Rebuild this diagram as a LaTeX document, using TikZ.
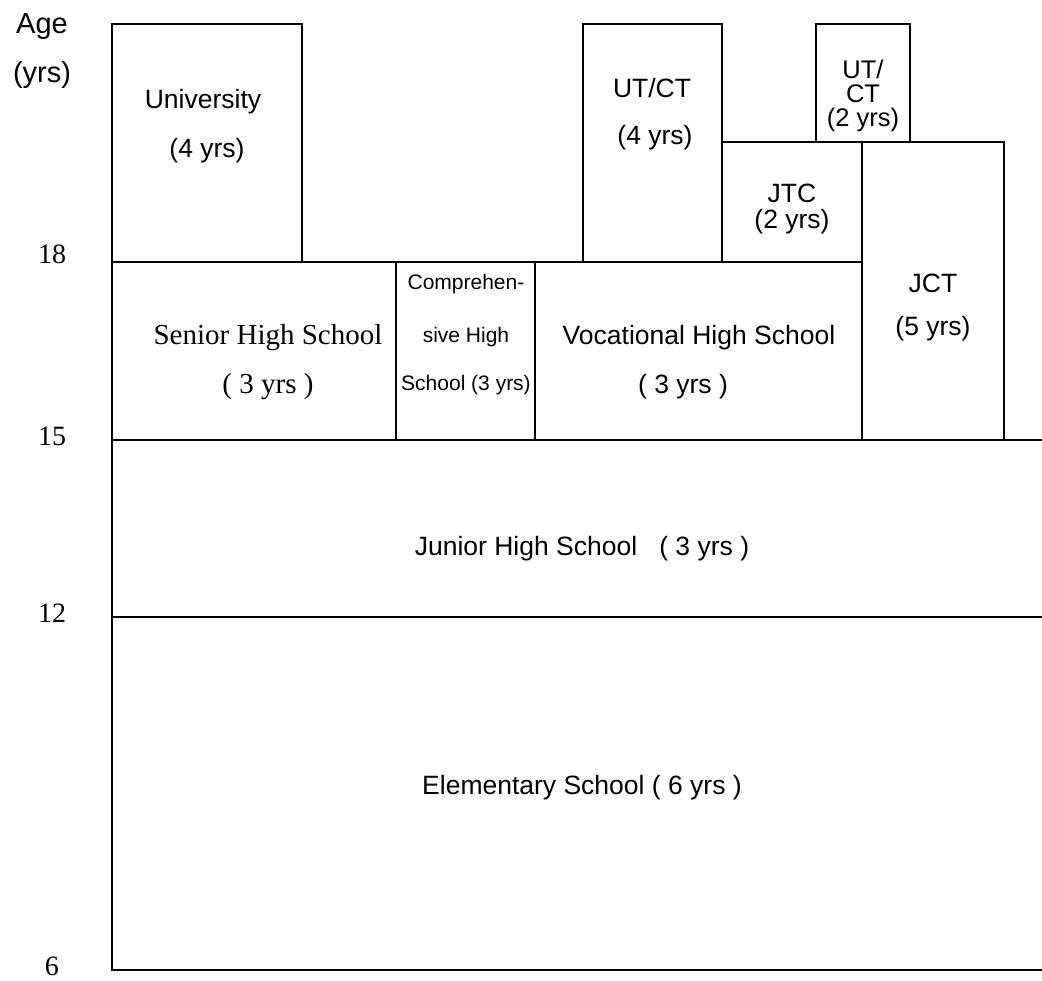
\documentclass[tikz,border=0pt]{standalone}
\usepackage{fontspec}
\setmainfont{Liberation Serif}
\newfontfamily\arialf{Liberation Sans}
\begin{document}
\begin{tikzpicture}[x=1pt,y=-1pt,
  ln/.style={line width=1.7pt,line cap=rect},
  lab/.style={font=\arialf\fontsize{26.5}{30}\selectfont,inner sep=0pt,anchor=center},
  alab/.style={font=\arialf\fontsize{29}{32}\selectfont,inner sep=0pt,anchor=center},
  slab/.style={font=\arialf\fontsize{21}{24}\selectfont,inner sep=0pt,anchor=center},
  tlab/.style={font=\fontsize{29}{32}\selectfont,inner sep=0pt,anchor=center},
  num/.style={font=\fontsize{28}{30}\selectfont,inner sep=0pt,anchor=center}]
\useasboundingbox (0,0) rectangle (1042,981);
% structure lines
\draw[ln] (112,24) -- (112,970);
\draw[ln] (112,24) -- (302,24) -- (302,262);
\draw[ln] (112,262) -- (862,262);
\draw[ln] (396,262) -- (396,440);
\draw[ln] (535,262) -- (535,440);
\draw[ln] (583,262) -- (583,24) -- (722,24) -- (722,262);
\draw[ln] (722,142) -- (1004,142);
\draw[ln] (816,142) -- (816,24) -- (910,24) -- (910,142);
\draw[ln] (862,142) -- (862,440);
\draw[ln] (1004,142) -- (1004,440);
\draw[ln] (112,440) -- (1042,440);
\draw[ln] (112,617) -- (1042,617);
\draw[ln] (112,970) -- (1042,970);
% axis labels
\node[alab] (age) at (42,27) {Age};
\node[alab] (yrs) at (42,75) {(yrs)};
\node[num] (n18) at (52,254) {18};
\node[num] (n15) at (52,436) {15};
\node[num] (n12) at (52,613) {12};
\node[num] (n6) at (52,966) {6};
% box labels
\node[lab] (univ) at (203,102) {University};
\node[lab] (univy) at (207,151) {(4 yrs)};
\node[lab] (utct) at (652,88) {UT/CT};
\node[lab] (utcty) at (655,138) {(4 yrs)};
\node[font=\arialf\fontsize{25.5}{24}\selectfont,inner sep=0pt,align=center] (utct2) at (863,96) {UT/\\CT\\(2 yrs)};
\node[lab] (jtc) at (792,193) {JTC};
\node[lab] (jtcy) at (792,222) {(2 yrs)};
\node[lab] (jct) at (933,283) {JCT};
\node[lab] (jcty) at (933,329) {(5 yrs)};
\node[tlab] (shs) at (268,338) {Senior High School};
\node[tlab] (shsy) at (268,387) {( 3 yrs )};
\node[slab] (chs1) at (466,284) {Comprehen-};
\node[slab] (chs2) at (466,337) {sive High};
\node[slab] (chs3) at (466,385) {School (3 yrs)};
\node[lab] (vhs) at (699,338) {Vocational High School};
\node[lab] (vhsy) at (683,387) {( 3 yrs )};
\node[lab] (jhs) at (582,549) {Junior High School\ \ \ ( 3 yrs )};
\node[lab] (es) at (582,788) {Elementary School ( 6 yrs )};
\end{tikzpicture}
\end{document}
